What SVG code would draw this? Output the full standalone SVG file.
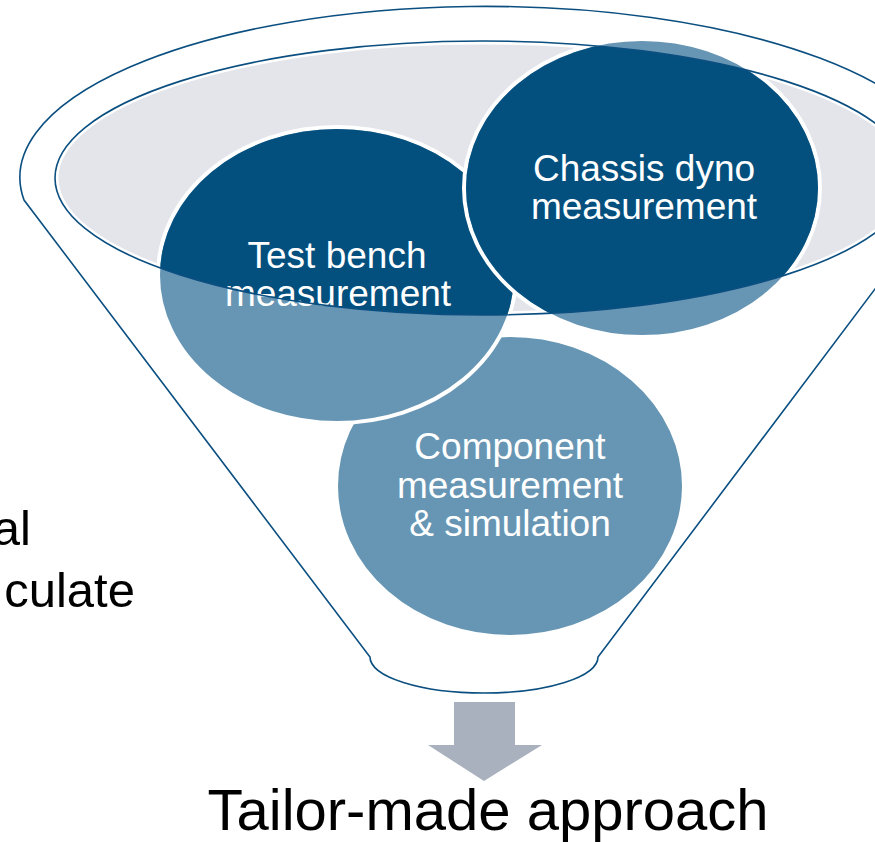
<svg xmlns="http://www.w3.org/2000/svg" width="875" height="842" viewBox="0 0 875 842">
<style>
.line{fill:none;stroke:#0b4f80;stroke-width:1.6}
.light{fill:#6796b4;stroke:#ffffff;stroke-width:4}
.dark{fill:#03507f}
.lbl{font-family:"Liberation Sans",Arial,sans-serif;font-size:37px;fill:#ffffff;text-anchor:middle}
.big{font-family:"Liberation Sans",Arial,sans-serif;fill:#000000}
</style>
<defs>
<clipPath id="mouth"><ellipse cx="483" cy="178" rx="428" ry="137"/></clipPath>
</defs>
<rect width="875" height="842" fill="#ffffff"/>
<g id="side-text">
<text class="big" x="31" y="545" font-size="49" text-anchor="end">al</text>
<text class="big" x="135" y="607" font-size="49" text-anchor="end">culate</text>
</g>
<g id="funnel">
<path class="line" d="M24,200 A466,171 0 1 1 951,188 L598,657 A114,36 0 0 1 370,657 Z"/>
<ellipse cx="483" cy="178" rx="426" ry="135" fill="#e4e5eb" stroke="#ffffff" stroke-width="3"/>
</g>
<g id="node-component">
<ellipse class="light" cx="510" cy="486" rx="174" ry="151"/>
<text class="lbl" x="510" y="459">Component</text>
<text class="lbl" x="510" y="498">measurement</text>
<text class="lbl" x="510" y="536">&amp; simulation</text>
</g>
<g id="node-testbench">
<ellipse class="light" cx="337" cy="275" rx="179" ry="148"/>
<ellipse class="dark" cx="337" cy="275" rx="177" ry="146" clip-path="url(#mouth)"/>
<text class="lbl" x="337" y="268">Test bench</text>
<text class="lbl" x="338" y="306">measurement</text>
</g>
<g id="node-chassis">
<ellipse class="light" cx="642" cy="188" rx="178" ry="149"/>
<ellipse class="dark" cx="642" cy="188" rx="176" ry="147" clip-path="url(#mouth)"/>
<text class="lbl" x="644" y="181">Chassis dyno</text>
<text class="lbl" x="644" y="219">measurement</text>
</g>
<g id="funnel-rim">
<ellipse class="line" cx="483" cy="178" rx="428" ry="137"/>
</g>
<g id="connectors">
<polygon points="454,702 515,702 515,745 542,745 484,781 428,745 454,745" fill="#aab1be"/>
</g>
<g id="result">
<text class="big" x="488" y="830" font-size="58" text-anchor="middle">Tailor-made approach</text>
</g>
</svg>
